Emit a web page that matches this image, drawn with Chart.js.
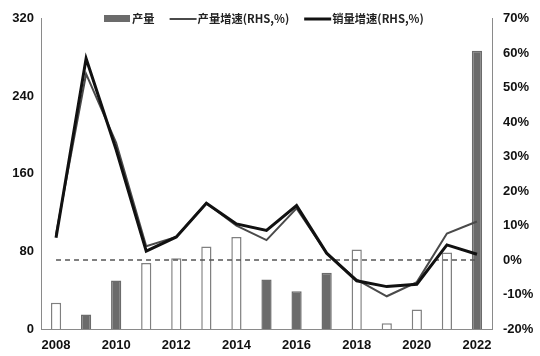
<!DOCTYPE html>
<html><head><meta charset="utf-8">
<script src="https://cdn.jsdelivr.net/npm/chart.js@4/dist/chart.umd.min.js"></script>
<style>html,body{margin:0;padding:0;background:#fff}#wrap{position:relative;width:540px;height:356px}</style>
</head><body><div id="wrap"><canvas id="c" width="540" height="356"></canvas></div>
<script>
const years = ['2008','2009','2010','2011','2012','2013','2014','2015','2016','2017','2018','2019','2020','2021','2022'];
const output = [27, 15, 50, 68, 73, 85, 95, 51, 39, 58, 82, 6, 20, 79, 287];
const outputGrowth = [7.5, 54, 34, 4, 6.7, 16.5, 10, 5.8, 15, 2, -5.7, -10.5, -6.4, 7.7, 11.2];
const salesGrowth = [6.5, 58.5, 32, 2.6, 6.7, 16.5, 10.5, 8.6, 15.8, 2, -6, -7.7, -7, 4.4, 1.7];
const zeroLine = [0, 0, 0, 0, 0, 0, 0, 0, 0, 0, 0, 0, 0, 0, 0];
const filledYears = ['2009', '2010', '2015', '2016', '2017', '2022'];
const leftTicks = [0, 80, 160, 240, 320];
const rightTicks = [-20, -10, 0, 10, 20, 30, 40, 50, 60, 70];

const FILL = '#6b6b6b';
const tickFont = {family: '"Liberation Sans", "Noto Sans CJK SC"', size: 13, weight: 'bold'};

const legendPlugin = {
  id: 'customLegend',
  afterDraw(chart) {
    const ctx = chart.ctx;
    ctx.save();
    ctx.font = 'bold 11.3px "Noto Sans CJK SC"';
    ctx.textBaseline = 'middle';
    ctx.fillStyle = '#222';
    const y = 19;
    let x = 104;
    const items = chart.data.datasets.filter(d => d.legendIdx !== undefined)
      .sort((a, b) => a.legendIdx - b.legendIdx);
    items.forEach(d => {
      if (d.type === 'bar') {
        ctx.fillStyle = FILL;
        ctx.fillRect(x, 15, 26, 7);
      } else {
        ctx.strokeStyle = d.borderColor;
        ctx.lineWidth = d.borderWidth;
        ctx.beginPath(); ctx.moveTo(x, y); ctx.lineTo(x + 27, y); ctx.stroke();
      }
      x += 28;
      ctx.fillStyle = '#222';
      ctx.fillText(d.label, x, y);
      x += ctx.measureText(d.label).width + 15;
    });
    ctx.restore();
  }
};

new Chart(document.getElementById('c'), {
  data: {
    labels: years,
    datasets: [
      {type: 'bar', label: '产量', legendIdx: 0, data: output, yAxisID: 'y', order: 3,
       backgroundColor: years.map(y => filledYears.includes(y) ? FILL : '#ffffff'),
       borderColor: years.map(y => filledYears.includes(y) ? FILL : '#808080'),
       borderWidth: 1.5, barPercentage: 0.34, categoryPercentage: 1},
      {type: 'line', label: 'zero', data: zeroLine, yAxisID: 'y1', order: 2,
       borderColor: '#555', borderWidth: 1.5, borderDash: [5, 4], pointRadius: 0, fill: false},
      {type: 'line', label: '产量增速(RHS,%)', legendIdx: 1, data: outputGrowth, yAxisID: 'y1', order: 1,
       borderColor: '#4a4a4a', borderWidth: 2, pointRadius: 0, tension: 0, fill: false},
      {type: 'line', label: '销量增速(RHS,%)', legendIdx: 2, data: salesGrowth, yAxisID: 'y1', order: 0,
       borderColor: '#111', borderWidth: 3, pointRadius: 0, tension: 0, fill: false}
    ]
  },
  options: {
    responsive: false,
    animation: false,
    devicePixelRatio: 1,
    layout: {padding: {top: 15, left: 0, right: 0, bottom: 0}},
    plugins: {legend: {display: false}, tooltip: {enabled: false}},
    scales: {
      x: {
        offset: true,
        grid: {display: false, drawTicks: false},
        border: {display: true, color: '#8a8a8a', width: 1},
        ticks: {font: tickFont, color: '#111', padding: 9, autoSkip: false, maxRotation: 0,
                callback: (v, i) => i % 2 === 0 ? years[i] : ''},
        afterFit: s => { s.height = 27; }
      },
      y: {
        position: 'left', min: 0, max: 320,
        grid: {display: false, drawTicks: false},
        border: {display: true, color: '#8a8a8a', width: 1},
        afterBuildTicks: s => { s.ticks = leftTicks.map(v => ({value: v})); },
        ticks: {font: tickFont, color: '#111', padding: 7},
        afterFit: s => { s.width = 41; }
      },
      y1: {
        position: 'right', min: -20, max: 70,
        grid: {display: false, drawTicks: false},
        border: {display: true, color: '#8a8a8a', width: 1},
        afterBuildTicks: s => { s.ticks = rightTicks.map(v => ({value: v})); },
        ticks: {font: tickFont, color: '#111', padding: 11, callback: v => v + '%'},
        afterFit: s => { s.width = 48; }
      }
    }
  },
  plugins: [legendPlugin]
});
</script></body></html>
